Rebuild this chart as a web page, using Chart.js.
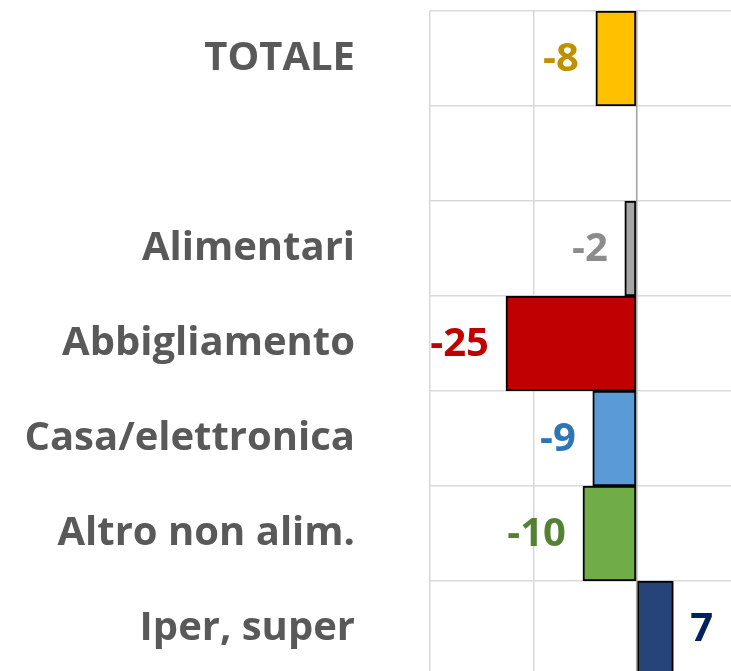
<!DOCTYPE html>
<html>
<head>
<meta charset="utf-8">
<script src="https://cdn.jsdelivr.net/npm/chart.js@4/dist/chart.umd.min.js"></script>
<style>
    body { margin: 0; overflow: hidden; background: #fff; }
    #wrap { width: 745px; height: 680px; }
</style>
</head>
<body>
<div id="wrap"><canvas id="myChart" width="745" height="680"></canvas></div>
<script>
// Dati del grafico
const categorie = ["TOTALE", "", "Alimentari", "Abbigliamento", "Casa/elettronica", "Altro non alim.", "Iper, super"];
const valori = [-7.9, null, -2.3, -25.3, -8.5, -10.4, 7.1];
const coloriBarre = ["#FFC000", "#FFFFFF", "#A5A5A5", "#C00000", "#5B9BD5", "#70AD47", "#264478"];
const coloriEtichette = ["#BF9000", "#FFFFFF", "#8C8C8C", "#C00000", "#2E75B6", "#548235", "#002060"];
const tickX = [-40, -20, 0, 20];

const font = { family: "'Open Sans'", size: 40, weight: "bold" };

// Disegna i valori (arrotondati) accanto alle barre
const etichette = {
    id: "etichette",
    afterDatasetsDraw(chart) {
        const ctx = chart.ctx;
        const meta = chart.getDatasetMeta(0);
        ctx.save();
        ctx.font = "bold 40px 'Open Sans'";
        ctx.textBaseline = "middle";
        meta.data.forEach((bar, i) => {
            const v = valori[i];
            if (v === null) return;
            ctx.fillStyle = coloriEtichette[i];
            const testo = v.toFixed(0);
            if (v < 0) {
                ctx.textAlign = "right";
                ctx.fillText(testo, bar.x - 17, bar.y + 1);
            } else {
                ctx.textAlign = "left";
                ctx.fillText(testo, bar.x + 17, bar.y + 1);
            }
        });
        ctx.restore();
    }
};

// Linea dello zero sopra le barre
const lineaZero = {
    id: "lineaZero",
    afterDatasetsDraw(chart) {
        const ctx = chart.ctx;
        const x = chart.scales.x.getPixelForValue(0);
        const area = chart.chartArea;
        ctx.save();
        ctx.strokeStyle = "#A6A6A6";
        ctx.lineWidth = 1.5;
        ctx.beginPath();
        ctx.moveTo(x, area.top);
        ctx.lineTo(x, area.bottom);
        ctx.stroke();
        ctx.restore();
    }
};

let ctx = document.getElementById("myChart");
let myChart = new Chart(ctx, {
    type: "bar",
    data: {
        labels: categorie,
        datasets: [{
            data: valori,
            backgroundColor: coloriBarre,
            borderColor: "#000000",
            borderWidth: 2,
            borderSkipped: false,
            barPercentage: 1,
            categoryPercentage: 1
        }]
    },
    options: {
        indexAxis: "y",
        responsive: false,
        animation: false,
        layout: { padding: { top: 11, right: 5, bottom: 4, left: 0 } },
        plugins: {
            legend: { display: false },
            tooltip: { enabled: false }
        },
        scales: {
            x: {
                min: tickX[0],
                max: tickX[tickX.length - 1],
                afterBuildTicks(scale) {
                    scale.ticks = tickX.map(v => ({ value: v }));
                },
                afterFit(scale) { scale.height = 0; },
                ticks: { display: false },
                border: { display: false },
                grid: { color: "#D9D9D9", lineWidth: 1.5, drawTicks: false }
            },
            y: {
                afterFit(scale) {
                    scale.width = 430;
                    scale.paddingTop = 0;
                    scale.paddingBottom = 0;
                },
                ticks: { color: "#595959", font: font, padding: 75 },
                border: { display: false },
                grid: { color: "#D9D9D9", lineWidth: 1.5, drawTicks: false }
            }
        }
    },
    plugins: [etichette, lineaZero]
});
</script>
</body>
</html>
